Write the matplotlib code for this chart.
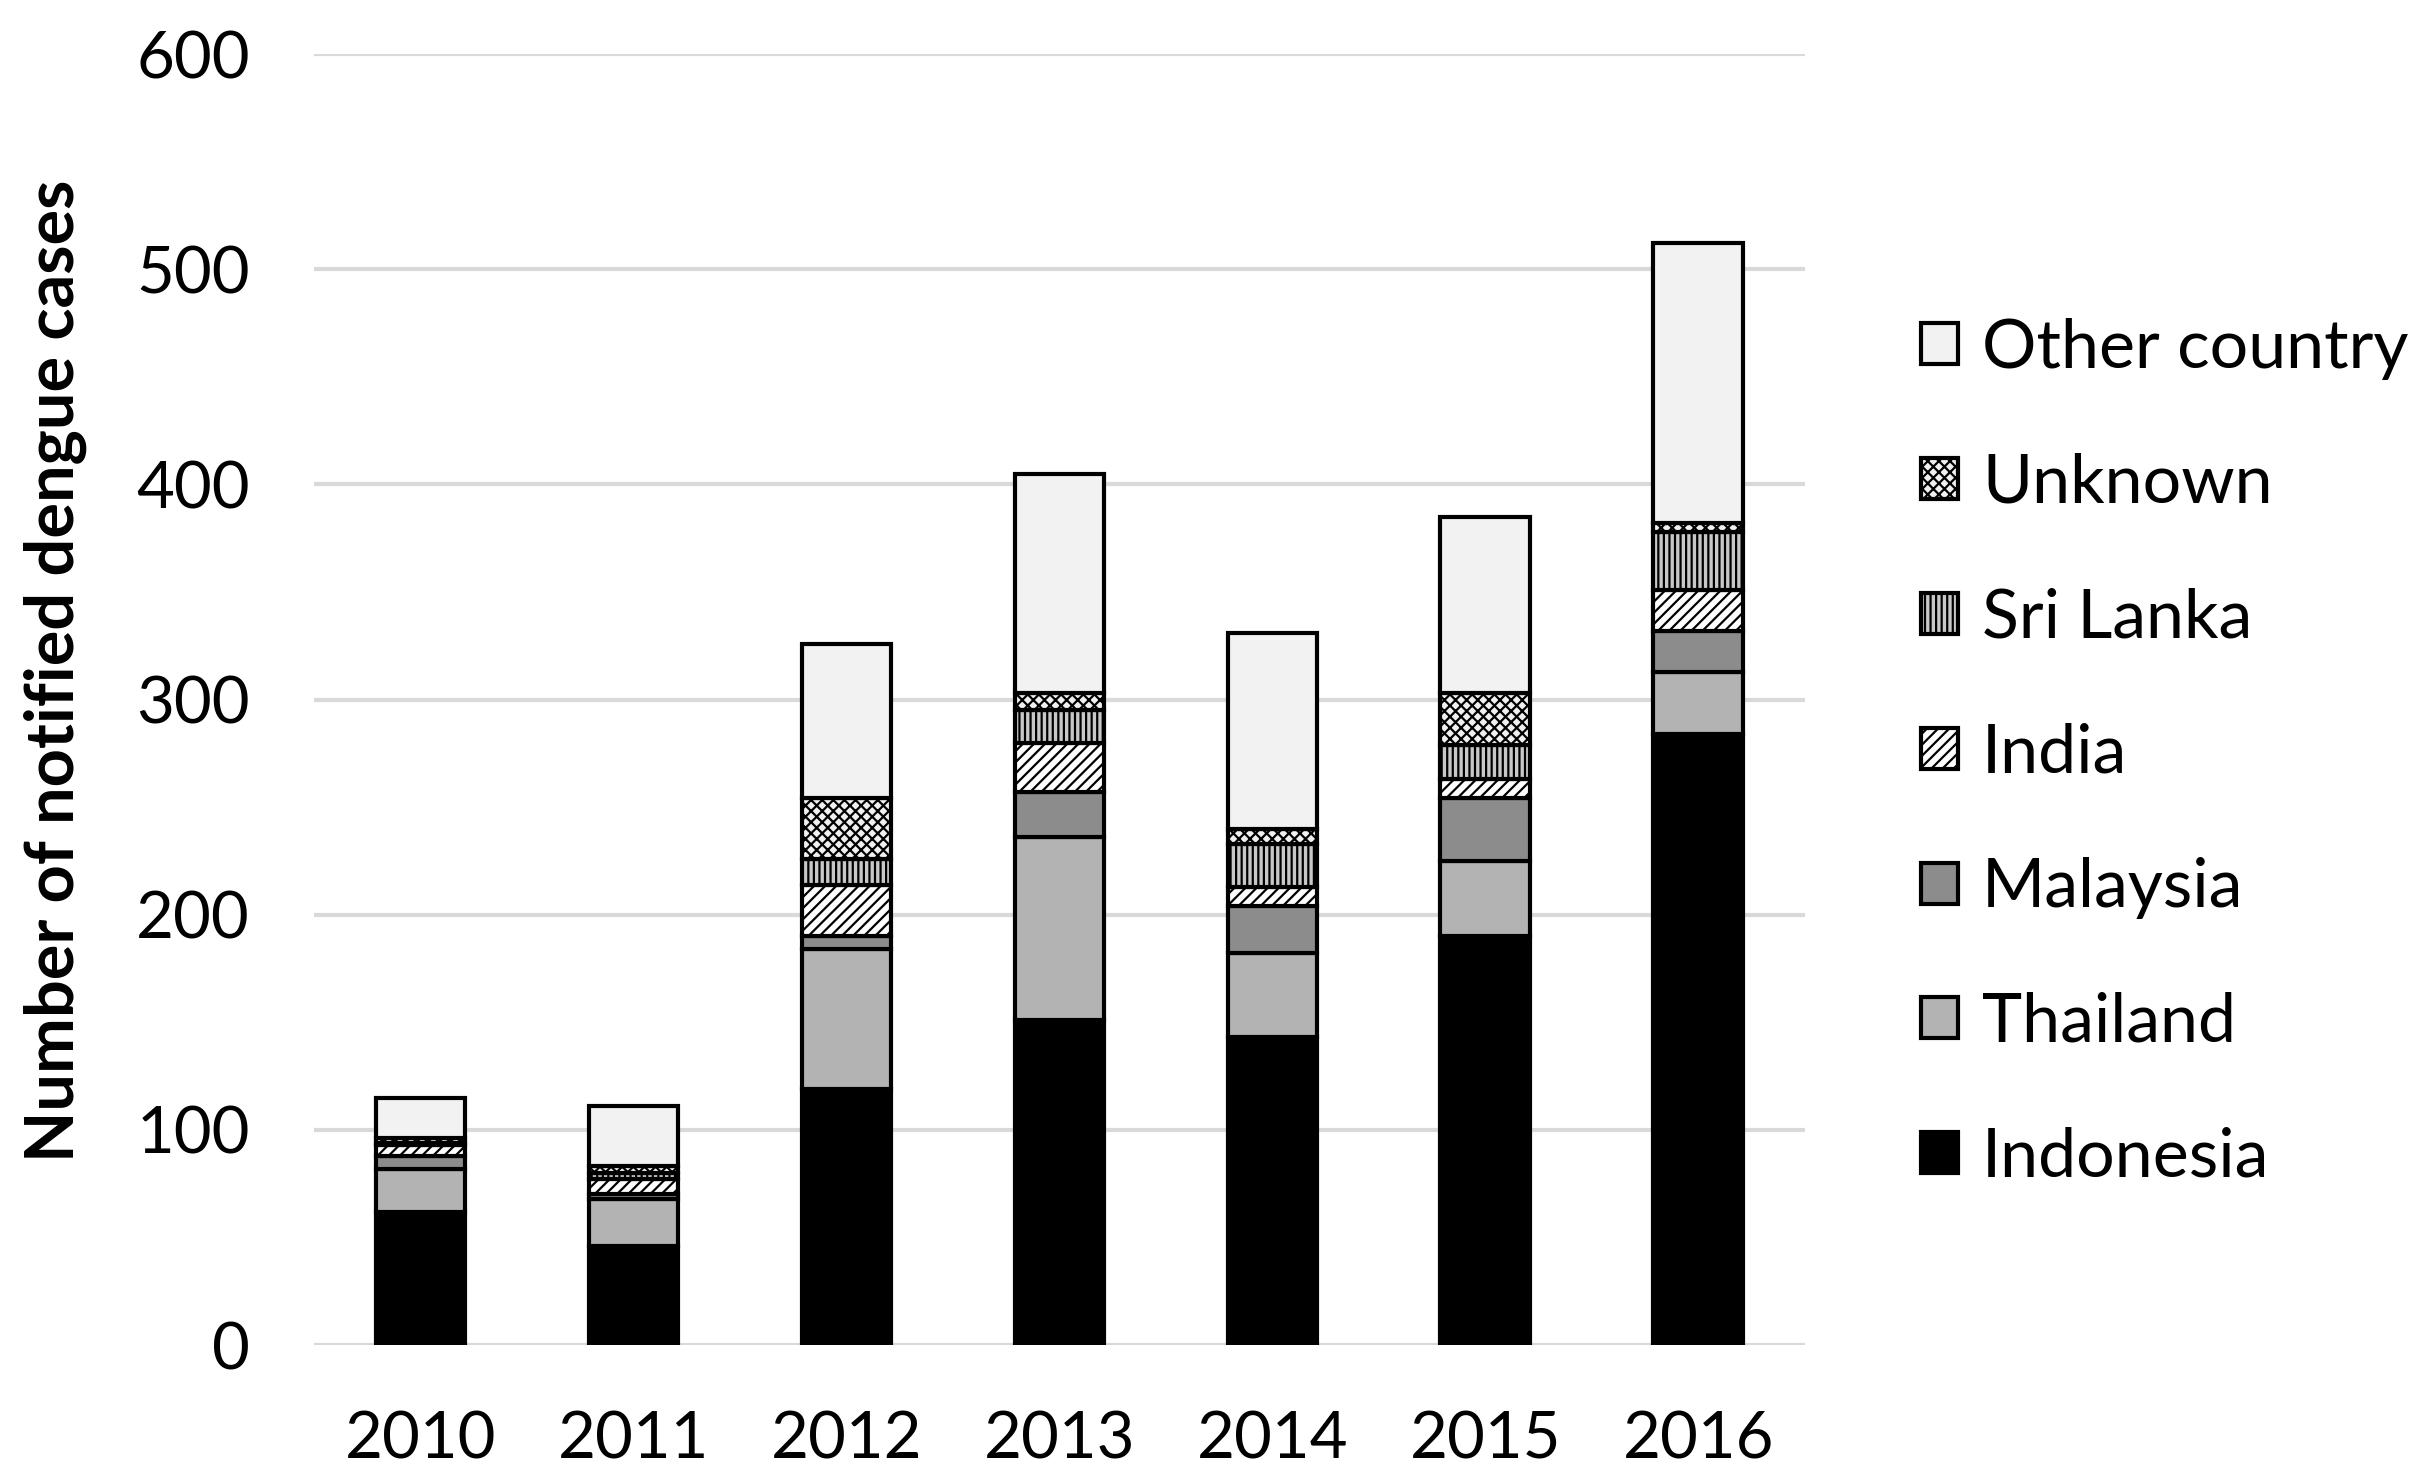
import numpy as np
import matplotlib.pyplot as plt

# Notified dengue cases by country of acquisition, per year
years = ['2010', '2011', '2012', '2013', '2014', '2015', '2016']
indonesia = [62, 46, 119, 151, 143, 190, 284]
thailand = [20, 22, 65, 85, 39, 35, 29]
malaysia = [6, 2, 6, 21, 22, 29, 19]
india = [5, 7, 24, 23, 9, 9, 19]
sri_lanka = [1, 3, 12, 15, 20, 16, 27]
unknown = [2, 3, 28, 8, 7, 24, 4]
other = [19, 28, 72, 102, 91, 82, 130]

series = [
    ('Indonesia', indonesia, '#000000', None),
    ('Thailand', thailand, '#b3b3b3', None),
    ('Malaysia', malaysia, '#8c8c8c', None),
    ('India', india, '#ffffff', '///'),
    ('Sri Lanka', sri_lanka, '#c8c8c8', '|||'),
    ('Unknown', unknown, '#f0f0f0', 'xxx'),
    ('Other country', other, '#f2f2f2', None),
]

plt.rcParams['font.family'] = ['Lato', 'DejaVu Sans']
plt.rcParams['hatch.linewidth'] = 1.6
plt.rcParams['hatch.color'] = 'black'

fig = plt.figure(figsize=(24.22, 14.8), dpi=100)
ax = fig.add_axes([0.1296, 0.0912, 0.6155, 0.8723])

x = np.arange(len(years))
bottom = np.zeros(len(years))
handles = []
for name, vals, color, hatch in series:
    b = ax.bar(x, vals, 0.42, bottom=bottom, color=color, edgecolor='black',
               linewidth=3, hatch=hatch, label=name, zorder=3)
    handles.append(b)
    bottom += np.array(vals)

ax.set_xlim(-0.5, 6.5)
ax.set_ylim(0, 600)
ax.set_yticks(range(0, 601, 100))
ax.set_xticks(x)
ax.set_xticklabels(years)
ax.grid(axis='y', color='#d9d9d9', linewidth=3, zorder=0)
ax.set_axisbelow(True)
for s in ax.spines.values():
    s.set_visible(False)
ax.tick_params(axis='both', length=0, labelsize=47, colors='black')
ax.tick_params(axis='y', pad=46)
ax.tick_params(axis='x', pad=47)
ax.set_ylabel('Number of notified dengue cases', fontsize=48, fontweight='bold')
ax.yaxis.set_label_coords(-0.152, 0.522)

leg = fig.legend(handles[::-1], [s[0] for s in series][::-1],
                 loc='center left', bbox_to_anchor=(0.793, 0.491),
                 frameon=False, fontsize=49, handlelength=0.55, handleheight=0.55,
                 handletextpad=0.35, labelspacing=1.07, borderpad=0,
                 borderaxespad=0)

fig.savefig('out.png', dpi=100)
